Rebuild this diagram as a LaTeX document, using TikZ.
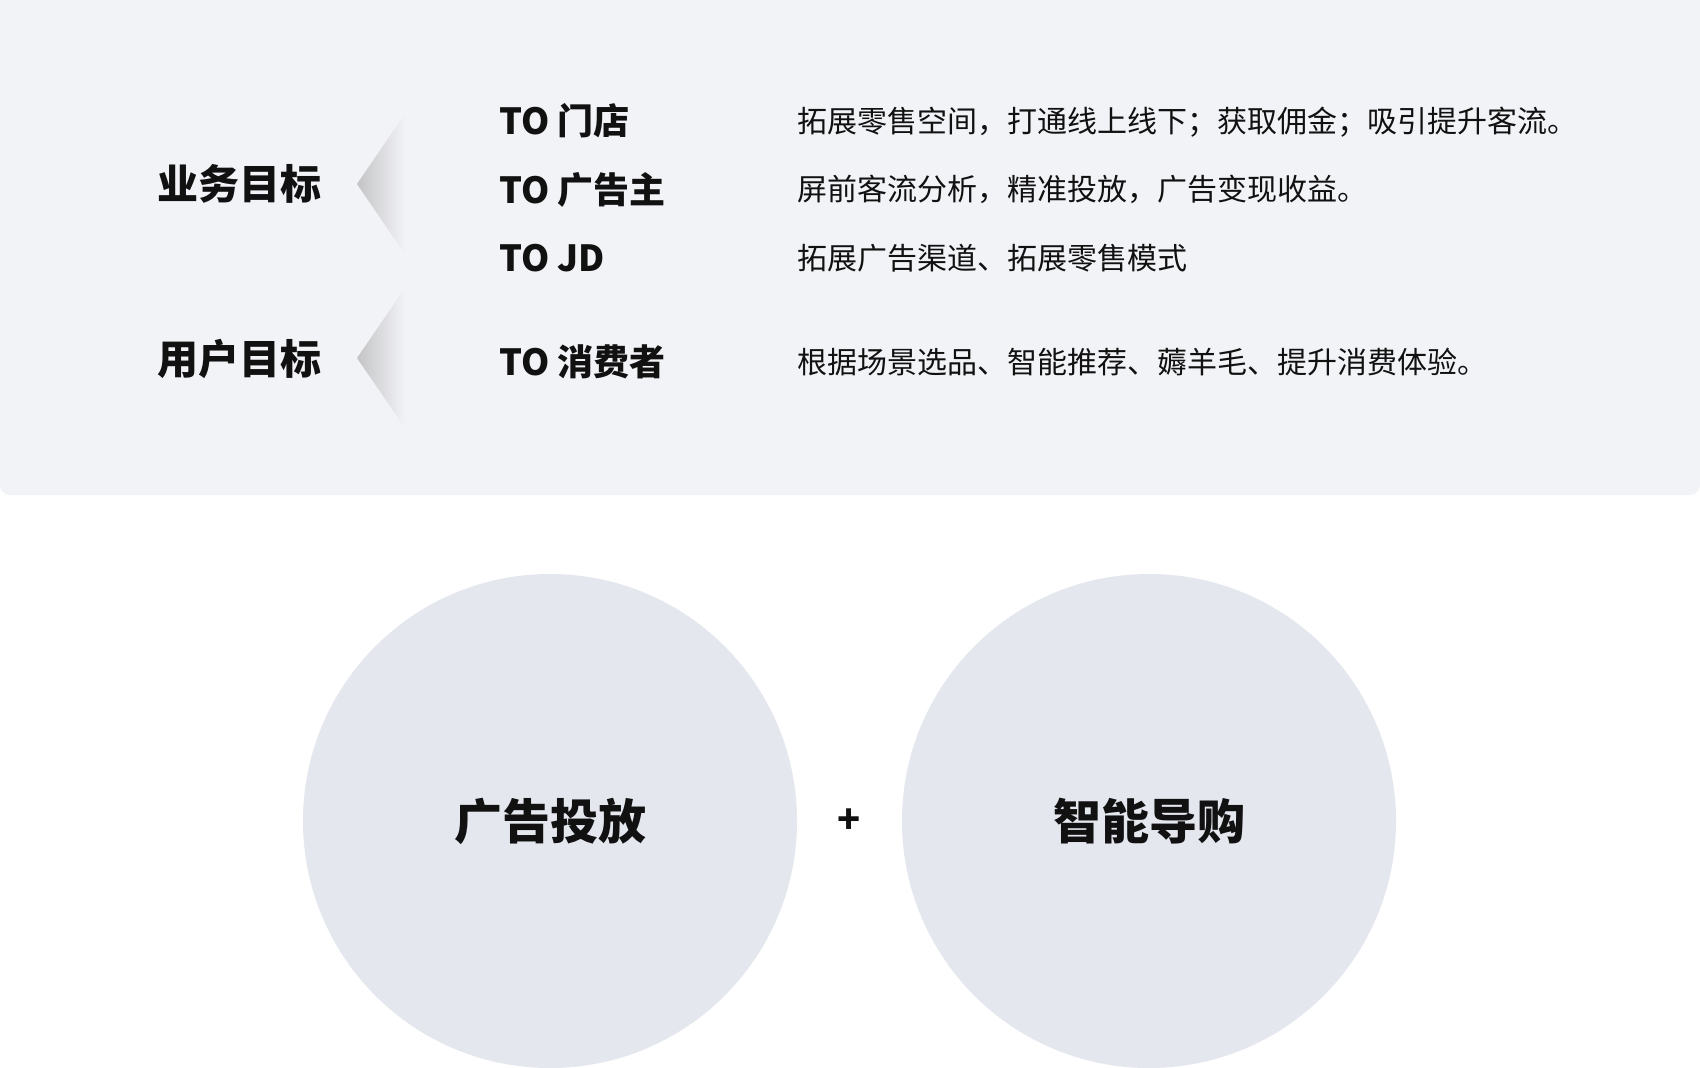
\documentclass[tikz,border=0pt]{standalone}
\usepackage{fontspec}
\setmainfont{Noto Sans CJK SC}
\usetikzlibrary{shapes.geometric}
\definecolor{panelbg}{HTML}{F2F3F7}
\definecolor{circbg}{HTML}{E4E7EE}
\definecolor{txt}{HTML}{111111}
\definecolor{chev}{HTML}{C4C4C6}
\tikzset{
  goal/.style={text=txt,font=\fontsize{41}{48}\selectfont\bfseries,anchor=center,inner sep=0},
  tolabel/.style={text=txt,font=\fontsize{36}{42}\selectfont\bfseries,anchor=west,inner sep=0},
  desc/.style={text=txt,font=\fontsize{30}{36}\selectfont,anchor=west,inner sep=0},
  bigcirc/.style={circle,fill=circbg,minimum size=494pt,inner sep=0,text=txt,font=\fontsize{48}{56}\selectfont\bfseries},
}
\begin{document}
\begin{tikzpicture}[x=1pt,y=-1pt]
\useasboundingbox (0,0) rectangle (1700,1068);
\fill[white] (0,0) rectangle (1700,1068);
\fill[panelbg,rounded corners=10pt] (0,-20) rectangle (1700,495);
% chevrons
\shade[left color=chev,right color=panelbg] (357,184) -- (405,114) -- (405,254) -- cycle;
\shade[left color=chev,right color=panelbg] (357,358) -- (405,288) -- (405,428) -- cycle;
% goal labels
\node[goal] (biz) at (239,184) {业务目标};
\node[goal] (usr) at (239,359) {用户目标};
% target labels
\node[tolabel] (t1) at (499,121) {TO 门店};
\node[tolabel] (t2) at (499,190) {TO 广告主};
\node[tolabel] (t3) at (499,258) {TO JD};
\node[tolabel] (t4) at (499,362) {TO 消费者};
% descriptions
\node[desc] (d1) at (797,122) {拓展零售空间，打通线上线下；获取佣金；吸引提升客流。};
\node[desc] (d2) at (797,189) {屏前客流分析，精准投放，广告变现收益。};
\node[desc] (d3) at (797,258) {拓展广告渠道、拓展零售模式};
\node[desc] (d4) at (797,362) {根据场景选品、智能推荐、薅羊毛、提升消费体验。};
% circles
\node[bigcirc] (ad) at (550,821) {广告投放};
\node[bigcirc] (guide) at (1149,821) {智能导购};
\node[text=txt,font=\fontsize{38}{44}\selectfont\bfseries] (plus) at (849,821) {+};
\end{tikzpicture}
\end{document}
